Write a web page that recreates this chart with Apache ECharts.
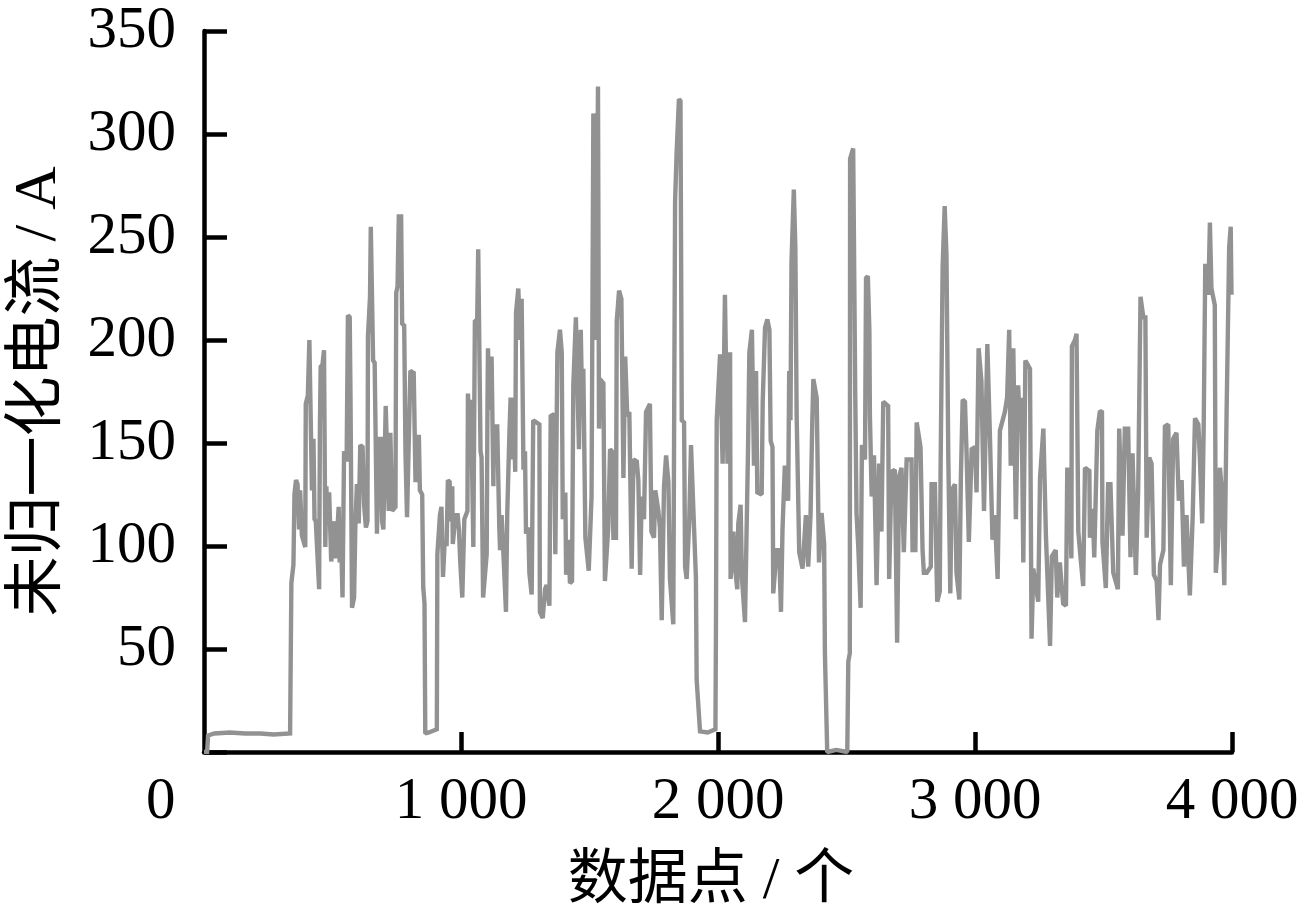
<!DOCTYPE html>
<html><head><meta charset="utf-8">
<style>html,body{margin:0;padding:0;background:#fff}#c{width:1305px;height:916px}</style>
<script src="https://cdn.jsdelivr.net/npm/echarts@6/dist/echarts.min.js"></script>
</head><body><div id="c"></div>
<script>
const yTicks=[50,100,150,200,250,300,350];
const xTickLabels={1000:'1 000',2000:'2 000',3000:'3 000',4000:'4 000'};
const trace1=[[0,0],[12,0],[16,8],[40,9],[100,9.5],[160,9],[220,9],[270,8.5],[335,9],[340,82],[348,91],[352,125],[358,132],[364,130],[370,108],[374,127],[381,105],[394,99.5],[396,169],[404,173],[410,200],[417,200],[420,127],[426,152],[430,113],[435,112],[448,79],[451,158],[454,187],[461,188],[467,195],[472,99.5],[476,129],[481,115],[487,126],[495,92.5],[500,93],[508,112],[513,94],[524,119],[528,92],[534,101],[539,75],[545,146],[555,141],[560,212],[567,211],[570,173],[576,70],[584,75],[589,110],[595,130],[602,111],[608,149],[617,148],[623,120],[630,109],[636,112],[638,202],[646,221],[649,255],[654,255],[658,190],[664,189],[673,106],[680,152],[688,152],[693,112],[698,108],[707,168],[714,168],[719,117],[725,155],[732,117],[745,119],[748,223],[753,226],[758,260],[767,260],[771,208],[779,207],[784,145],[790,114],[797,114],[803,185],[816,184],[823,131],[829,131],[836,154],[840,127],[849,125],[853,80],[858,72],[861,9],[875,9.5],[906,11],[908,96],[918,115],[924,119],[930,85],[936,101],[944,101],[949,132],[956,131],[959,112],[966,129],[968,101],[979,115],[987,115],[992,108],[997,92.5],[1005,75],[1013,113],[1025,117],[1027,174],[1034,155],[1039,171],[1048,99.5],[1054,209],[1063,210],[1067,244],[1071,244],[1076,146],[1080,143],[1086,75]];
const trace2=[[1100,96],[1103,168],[1105,196],[1113,166],[1119,192],[1126,129],[1128,158],[1141,158],[1149,109],[1152,98],[1158,115],[1167,91],[1175,68],[1180,116],[1188,153],[1193,172],[1201,142],[1204,172],[1211,136],[1214,213],[1223,225],[1230,200],[1236,220],[1243,137],[1249,146],[1253,106],[1262,109],[1266,87],[1275,76.5],[1281,161],[1305,159],[1307,68],[1318,65],[1327,79],[1333,81],[1344,71],[1349,163],[1362,164],[1367,96],[1375,194],[1385,205],[1392,194],[1396,113],[1406,126],[1409,86],[1418,103],[1424,82],[1432,83],[1437,178],[1447,211],[1454,211],[1459,147],[1466,205],[1471,170],[1476,186],[1484,104],[1497,88],[1508,124],[1515,310],[1521,310],[1526,200],[1533,323],[1537,157],[1541,181],[1554,179],[1560,83],[1573,109],[1580,147],[1587,146],[1593,104],[1603,104],[1606,209],[1615,224],[1624,220],[1632,133],[1639,192],[1647,163],[1655,165],[1664,89],[1671,142],[1684,141],[1690,132],[1697,86],[1703,124],[1712,113],[1720,165],[1735,169],[1741,107],[1751,104],[1756,127],[1768,117],[1774,109],[1781,64],[1790,129],[1798,144],[1807,131],[1813,84],[1826,62],[1833,267],[1839,291],[1848,317],[1854,316],[1859,161],[1868,160],[1872,90],[1878,84],[1888,112],[1895,149],[1904,118],[1914,85],[1917,35],[1930,10],[1960,9.5],[1990,11],[1992,59],[1995,161],[2008,193],[2018,140],[2027,222],[2037,140],[2047,194],[2049,84],[2060,107],[2066,90],[2075,79],[2079,111],[2088,120],[2093,85],[2105,63],[2117,148],[2122,194],[2132,205],[2140,139],[2148,185],[2153,126],[2170,125],[2174,170],[2183,206],[2192,210],[2200,205],[2205,151]];
const trace3=[[2212,148],[2215,77],[2228,98],[2238,98],[2245,68],[2251,108],[2260,139],[2267,139],[2273,122],[2277,185],[2282,161],[2286,238],[2295,273],[2301,245],[2306,164],[2316,97],[2329,89],[2342,115],[2351,90],[2360,115],[2367,161],[2371,181],[2384,172],[2393,92],[2403,116],[2413,101],[2416,48],[2425,0],[2460,1],[2503,0],[2507,44],[2513,48],[2514,288],[2526,293],[2534,174],[2539,116],[2546,99],[2555,70],[2560,149],[2572,142],[2576,230],[2583,231],[2589,205],[2591,164],[2598,124],[2607,144],[2617,81],[2627,140],[2636,107],[2643,170],[2662,168],[2666,84],[2675,136],[2688,137],[2697,53],[2705,134],[2714,138],[2723,97],[2734,142],[2753,142],[2757,98],[2768,98],[2773,160],[2780,160],[2788,148],[2796,98],[2801,87],[2812,87],[2828,90],[2831,130],[2844,130],[2853,73],[2863,78],[2866,136],[2874,235],[2882,265],[2889,241],[2896,144],[2904,77],[2909,127],[2922,130],[2928,87],[2939,74],[2945,133],[2952,171],[2961,170],[2967,146],[2976,102],[2987,147],[3000,148],[3006,126],[3014,196],[3019,196],[3025,180],[3035,117],[3048,198],[3055,198],[3058,154],[3068,103],[3077,115],[3088,84],[3097,156]];
const trace4=[[3116,165],[3125,172],[3133,205],[3139,139],[3149,196],[3159,113],[3168,178],[3175,156],[3181,172],[3188,92],[3196,190],[3214,186],[3220,55],[3227,89],[3246,73],[3253,133],[3266,157],[3276,105],[3292,51.5],[3299,95],[3314,98],[3320,75],[3330,92],[3343,72],[3354,71],[3359,137],[3367,137],[3375,94],[3377,197],[3389,200],[3395,203],[3402,107],[3411,94],[3421,80.5],[3428,138],[3445,136.5],[3447,104],[3458,118],[3464,94.5],[3476,156],[3486,165.5],[3494,165],[3496,102],[3509,79.6],[3518,130],[3527,130],[3538,87],[3556,79],[3561,157],[3574,105],[3583,157],[3596,157],[3605,94.5],[3613,145],[3626,86],[3635,128],[3644,221],[3655,211],[3663,211],[3668,104],[3678,143],[3687,140],[3696,86],[3707,83],[3714,64],[3720,91],[3733,98],[3739,158],[3752,159],[3762,81],[3771,152],[3784,155],[3793,122],[3804,132],[3813,90],[3823,115],[3836,76],[3847,114],[3856,162],[3869,159],[3875,143],[3884,111],[3890,159],[3896,237],[3901,237],[3908,222],[3914,257],[3920,225],[3933,217],[3937,87],[3945,100],[3953,138],[3960,128],[3970,81],[3979,165],[3989,245],[3995,255],[3998,222]];
const points=[...trace1,...trace2,...trace3,...trace4];
const FONT='"Liberation Serif","Noto Sans CJK SC",serif';
const chart=echarts.init(document.getElementById('c'),null,{renderer:'canvas'});
chart.setOption({
  animation:false,backgroundColor:'#fff',
  grid:{left:204,right:73,top:31,bottom:164,containLabel:false,outerBoundsMode:'none'},
  xAxis:{type:'value',min:0,max:4000,interval:1000,
    name:'数据点 / 个',nameLocation:'middle',nameGap:100,
    nameTextStyle:{fontFamily:FONT,fontSize:60,color:'#000',padding:[0,14,0,0]},
    axisLine:{onZero:false,lineStyle:{color:'#000',width:4.5}},
    axisTick:{show:true,inside:true,length:20,lineStyle:{color:'#000',width:4.5}},
    splitLine:{show:false},
    axisLabel:{margin:21,fontFamily:FONT,fontSize:59,color:'#000',showMinLabel:false,hideOverlap:false,
      formatter:v=>xTickLabels[v]||''}},
  yAxis:{type:'value',min:0,max:350,interval:50,
    name:'未归一化电流 / A',nameLocation:'middle',nameGap:135,nameRotate:90,
    nameTextStyle:{fontFamily:FONT,fontSize:60,color:'#000'},
    axisLine:{lineStyle:{color:'#000',width:4.5}},
    axisTick:{show:true,inside:true,length:23,lineStyle:{color:'#000',width:4.5}},
    splitLine:{show:false},
    axisLabel:{margin:28,fontFamily:FONT,fontSize:59,color:'#000',hideOverlap:false,padding:[10,0,0,0],
      formatter:v=>yTicks.includes(v)?String(v):''}},
  graphic:[{type:'text',left:146,top:773,style:{text:'0',font:'59px '+FONT,fill:'#000'}}],
  series:[{type:'line',data:points,symbol:'none',sampling:null,smooth:false,clip:true,
    lineStyle:{color:'#929292',width:4.4,join:'miter',miterLimit:1.5}}]
});
</script></body></html>
